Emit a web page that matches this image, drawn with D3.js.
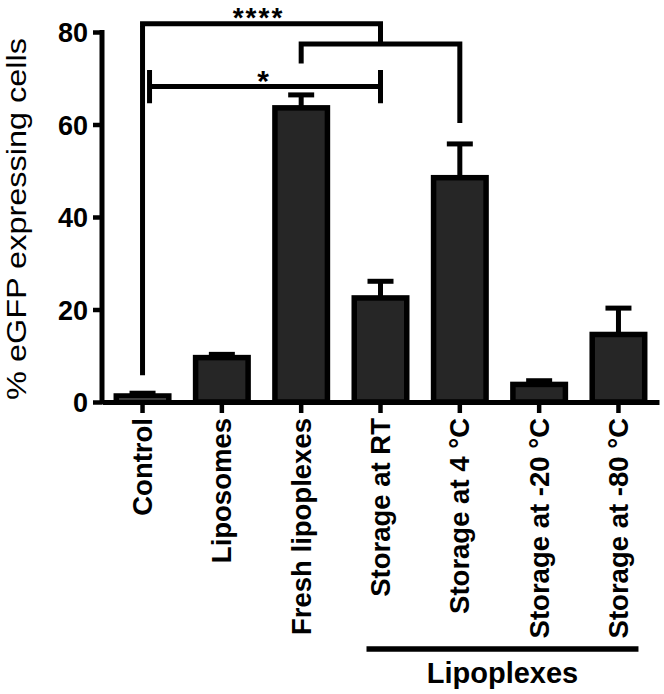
<!DOCTYPE html>
<html>
<head>
<meta charset="utf-8">
<script src="https://cdn.jsdelivr.net/npm/d3@7"></script>
<style>
  html, body { margin: 0; padding: 0; background: #fff; }
  svg { display: block; }
  text { font-family: "Liberation Sans", Arial, Helvetica, sans-serif; fill: #000; }
</style>
</head>
<body>
<svg id="chart" width="664" height="694"></svg>
<script>
// ---- data ----
const categories = ["Control", "Liposomes", "Fresh lipoplexes", "Storage at RT", "Storage at 4 °C", "Storage at -20 °C", "Storage at -80 °C"];
const means = [1.3, 9.6, 63.6, 22.5, 48.5, 3.8, 14.6];
const errors = [0.6, 0.7, 2.8, 3.6, 7.3, 0.8, 5.7];
const yTicks = [0, 20, 40, 60, 80];
const yTitle = "% eGFP expressing cells";
const groupLabel = "Lipoplexes";
const groupMembers = ["Storage at RT", "Storage at -80 °C"];
// significance brackets (values in y-data units)
const sigOuter = { from: "Control", toPair: ["Fresh lipoplexes", "Storage at 4 °C"], level: 81.8, leftEnd: 5.8, label: "****" };
const sigInner = { from: "Fresh lipoplexes", to: "Storage at 4 °C", level: 77.4, leftEnd: 73.2, rightEnd: 60.3 };
const sigStar = { from: "Control", to: "Storage at RT", level: 68.2, cap: 3.6, label: "*" };

// ---- layout ----
const svg = d3.select("#chart");
const x = d3.scaleBand().domain(categories).range([102, 659]).paddingInner(0.338).paddingOuter(0.18);
const y = d3.scaleLinear().domain([0, 80]).range([402, 32]);
const cx = c => x(c) + x.bandwidth() / 2;
const LW = 5;

// bars
svg.append("g").selectAll("rect").data(categories).join("rect")
  .attr("x", d => x(d))
  .attr("width", x.bandwidth())
  .attr("y", (d, i) => y(means[i]))
  .attr("height", (d, i) => y(0) - y(means[i]))
  .attr("fill", (d, i) => i === 0 ? "#e8e8e8" : "#262626")
  .attr("stroke", "#000")
  .attr("stroke-width", 5.5);

// error bars
const eg = svg.append("g").attr("stroke", "#000").attr("stroke-width", LW);
eg.selectAll("line.stem").data(categories).join("line").attr("class", "stem")
  .attr("x1", d => cx(d)).attr("x2", d => cx(d))
  .attr("y1", (d, i) => y(means[i]))
  .attr("y2", (d, i) => y(means[i] + errors[i]));
eg.selectAll("line.cap").data(categories).join("line").attr("class", "cap")
  .attr("x1", d => cx(d) - 13).attr("x2", d => cx(d) + 13)
  .attr("y1", (d, i) => y(means[i] + errors[i]))
  .attr("y2", (d, i) => y(means[i] + errors[i]));

// axes
const yAxis = svg.append("g").attr("transform", "translate(102,0)")
  .call(d3.axisLeft(y).tickValues(yTicks).tickSize(9).tickSizeOuter(0).tickPadding(5));
yAxis.select(".domain").attr("stroke-width", LW).attr("d", `M0,${y(0) + 2}V${y(80) - 2}`);
yAxis.selectAll(".tick line").attr("stroke-width", 4.5);
yAxis.selectAll(".tick text").attr("font-size", 27).attr("font-weight", "bold").attr("dy", "0.36em")
  .attr("font-family", "Liberation Sans, Arial, sans-serif");

const xAxis = svg.append("g").attr("transform", `translate(0,${y(0)})`)
  .call(d3.axisBottom(x).tickSize(11).tickSizeOuter(0));
xAxis.select(".domain").attr("stroke-width", LW);
xAxis.selectAll(".tick line").attr("stroke-width", 4.5);
xAxis.selectAll(".tick text")
  .attr("transform", "rotate(-90)")
  .attr("text-anchor", "end")
  .attr("x", -16).attr("y", 0).attr("dy", "0.35em")
  .attr("font-size", 27.5).attr("font-weight", "bold")
  .attr("font-family", "Liberation Sans, Arial, sans-serif");

// y title
svg.append("text")
  .attr("transform", `translate(26,${(y(0) + y(80)) / 2 + 2}) rotate(-90)`)
  .attr("text-anchor", "middle")
  .attr("font-size", 28)
  .attr("textLength", 362).attr("lengthAdjust", "spacingAndGlyphs")
  .text(yTitle);

// significance brackets
const bg = svg.append("g").attr("stroke", "#000").attr("stroke-width", LW).attr("fill", "none");
const innerL = cx(sigInner.from), innerR = cx(sigInner.to);
const innerMid = (innerL + innerR) / 2;
bg.append("path").attr("d",
  `M${cx(sigOuter.from)},${y(sigOuter.leftEnd)}V${y(sigOuter.level)}H${innerMid}V${y(sigInner.level)}`);
bg.append("path").attr("d",
  `M${innerL},${y(sigInner.leftEnd)}V${y(sigInner.level)}H${innerR}V${y(sigInner.rightEnd)}`);
const sL = cx(sigStar.from) + 7, sR = cx(sigStar.to);
bg.append("path").attr("d",
  `M${sL},${y(sigStar.level + sigStar.cap)}V${y(sigStar.level - sigStar.cap)}M${sL},${y(sigStar.level)}H${sR}M${sR},${y(sigStar.level + sigStar.cap)}V${y(sigStar.level - sigStar.cap)}`);

svg.append("text")
  .attr("x", (cx(sigOuter.from) + innerMid) / 2 - 3)
  .attr("y", y(sigOuter.level) + 3)
  .attr("text-anchor", "middle").attr("font-size", 28).attr("font-weight", "bold")
  .attr("letter-spacing", 2)
  .text(sigOuter.label);
svg.append("text")
  .attr("x", (sL + sR) / 2 - 2)
  .attr("y", y(sigStar.level) + 4)
  .attr("text-anchor", "middle").attr("font-size", 30).attr("font-weight", "bold")
  .text(sigStar.label);

// group line and label
const gx1 = cx(groupMembers[0]) - 14, gx2 = cx(groupMembers[1]) + 20;
svg.append("line").attr("x1", gx1).attr("x2", gx2).attr("y1", 649).attr("y2", 649)
  .attr("stroke", "#000").attr("stroke-width", 5.5);
svg.append("text")
  .attr("x", (gx1 + gx2) / 2).attr("y", 683)
  .attr("text-anchor", "middle").attr("font-size", 29).attr("font-weight", "bold")
  .text(groupLabel);
</script>
</body>
</html>
